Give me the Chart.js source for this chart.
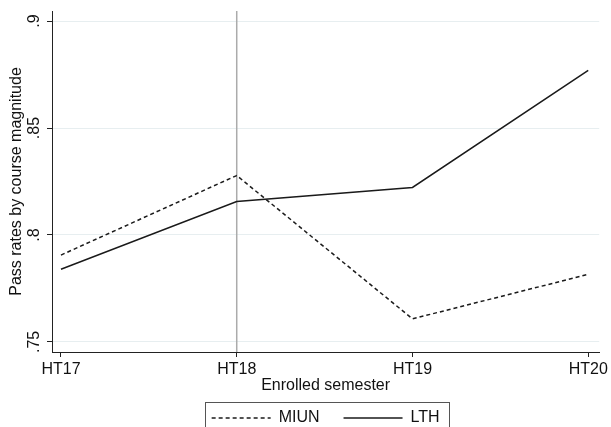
<!DOCTYPE html>
<html>
<head>
<meta charset="utf-8">
<script src="https://cdn.jsdelivr.net/npm/chart.js@4.4.1/dist/chart.umd.min.js"></script>
<style>
  html, body { margin: 0; padding: 0; overflow: hidden; background: #fff; }
  #wrap { position: relative; width: 611px; height: 436px; }
</style>
</head>
<body>
<div id="wrap"><canvas id="chart"></canvas></div>
<script>
// data
const semesters = ["HT17", "HT18", "HT19", "HT20"];
const miun = [0.7906, 0.8278, 0.7608, 0.7816];
const lth = [0.7840, 0.8156, 0.8222, 0.8769];
const yTicks = [0.75, 0.8, 0.85, 0.9];
const markedSemester = 1; // HT18

const font = { family: "'Liberation Sans', Arial, Helvetica, sans-serif", size: 16 };

// gray vertical line at HT18 + a box around the legend
const extras = {
    id: "extras",
    beforeDatasetsDraw(chart) {
        const { ctx, chartArea, scales } = chart;
        const x = scales.x.getPixelForValue(markedSemester);
        ctx.save();
        ctx.strokeStyle = "#ababab";
        ctx.lineWidth = 1.5;
        ctx.beginPath();
        ctx.moveTo(x, chartArea.top);
        ctx.lineTo(x, chartArea.bottom);
        ctx.stroke();
        ctx.restore();
    },
    afterDraw(chart) {
        const boxes = chart.legend.legendHitBoxes;
        if (!boxes || !boxes.length) return;
        const first = boxes[0];
        const last = boxes[boxes.length - 1];
        const ctx = chart.ctx;
        ctx.save();
        ctx.strokeStyle = "#555";
        ctx.lineWidth = 1;
        const left = Math.round(first.left - 7) + 0.5;
        const right = Math.round(last.left + last.width + 9) + 0.5;
        const top = Math.round(first.top - 8) + 0.5;
        ctx.strokeRect(left, top, right - left, 60);
        ctx.restore();
    }
};

new Chart(document.getElementById("chart"), {
    type: "line",
    data: {
        datasets: [{
            label: "MIUN",
            data: miun.map((v, i) => ({ x: i, y: v })),
            borderColor: "#1a1a1a",
            borderWidth: 1.5,
            borderDash: [4, 3],
            pointRadius: 0,
            fill: false,
            tension: 0
        }, {
            label: "LTH",
            data: lth.map((v, i) => ({ x: i, y: v })),
            borderColor: "#1a1a1a",
            borderWidth: 1.5,
            pointRadius: 0,
            fill: false,
            tension: 0
        }]
    },
    options: {
        responsive: true,
        maintainAspectRatio: false,
        animation: false,
        layout: { padding: { top: 11, right: 10, left: 0, bottom: 0 } },
        plugins: {
            tooltip: { enabled: false },
            legend: {
                position: "bottom",
                fullSize: false,
                labels: {
                    color: "#111",
                    font: font,
                    usePointStyle: true,
                    pointStyle: "line",
                    pointStyleWidth: 59,
                    padding: 24,
                    generateLabels(chart) {
                        const items = Chart.defaults.plugins.legend.labels.generateLabels(chart);
                        items.forEach(it => {
                            const ds = chart.data.datasets[it.datasetIndex];
                            it.lineDash = ds.borderDash || [];
                            it.lineWidth = ds.borderWidth;
                            it.strokeStyle = ds.borderColor;
                        });
                        return items;
                    }
                }
            }
        },
        scales: {
            x: {
                type: "linear",
                min: -0.051,
                max: 3.0625,
                afterBuildTicks: (s) => { s.ticks = semesters.map((_, i) => ({ value: i })); },
                afterFit: (s) => { s.height = 34; },
                ticks: {
                    color: "#111",
                    font: font,
                    padding: 3,
                    maxRotation: 0,
                    autoSkip: false,
                    callback: (v) => semesters[v]
                },
                grid: { display: true, drawOnChartArea: false, tickLength: 5, tickColor: "#222" },
                border: { display: true, color: "#222", width: 1 },
                title: {
                    display: true,
                    text: "Enrolled semester",
                    color: "#111",
                    font: font,
                    padding: { top: 0, bottom: -9 }
                }
            },
            y: {
                min: 0.7453,
                max: 0.9047,
                afterBuildTicks: (s) => { s.ticks = yTicks.map(v => ({ value: v })); },
                afterFit: (s) => { s.width = 52; },
                ticks: {
                    color: "#111",
                    font: font,
                    padding: 1,
                    minRotation: 90,
                    maxRotation: 90,
                    crossAlign: "center",
                    callback: (v) => String(v).replace(/^0/, "")
                },
                grid: { color: "#e7eef0", lineWidth: 1, tickLength: 5, tickColor: "#222" },
                border: { display: true, color: "#222", width: 1 },
                title: {
                    display: true,
                    text: "Pass rates by course magnitude",
                    color: "#111",
                    font: font,
                    padding: { top: 7, bottom: 0 }
                }
            }
        }
    },
    plugins: [extras]
});
</script>
</body>
</html>
